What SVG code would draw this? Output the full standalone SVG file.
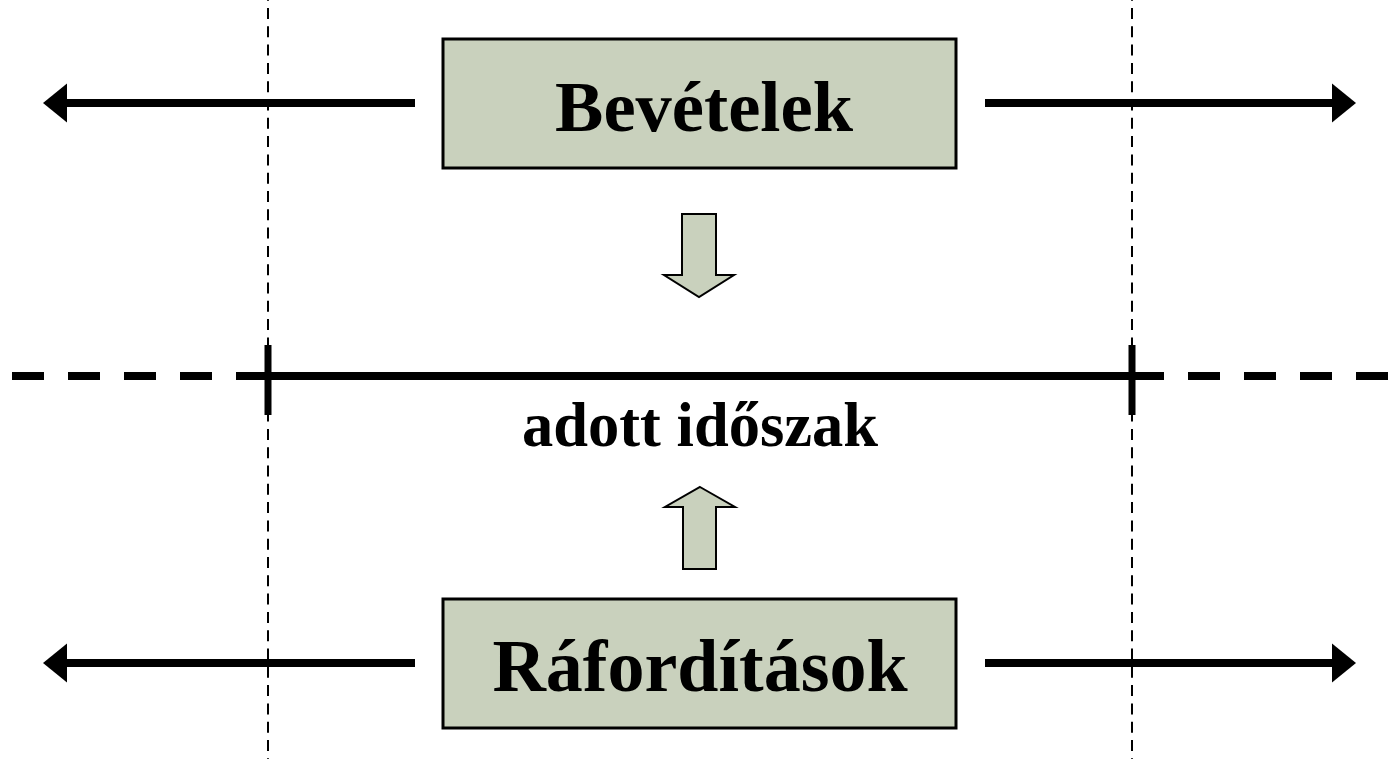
<svg xmlns="http://www.w3.org/2000/svg" width="1395" height="759" viewBox="0 0 1395 759">
<style>
.box{fill:#C9D1BD;stroke:#000;stroke-width:3}
.lbl{font-family:"Liberation Serif","Times New Roman",serif;font-weight:bold;fill:#000;text-anchor:middle}
.arr{stroke:#000;stroke-width:8;fill:none}
.blk{fill:#C9D1BD;stroke:#000;stroke-width:2;stroke-linejoin:miter}
.vdot{stroke:#000;stroke-width:2;stroke-dasharray:11 7.3;fill:none}
</style>
<defs>
<marker id="head" viewBox="0 -20 24 40" refX="0" refY="0" markerWidth="24" markerHeight="40" markerUnits="userSpaceOnUse" orient="auto">
<path d="M0,-19.5 L24,0 L0,19.5 z" fill="#000"/>
</marker>
</defs>
<rect width="1395" height="759" fill="#fff"/>
<g id="guides">
<line class="vdot" x1="268" y1="-10.3" x2="268" y2="759"/>
<line class="vdot" x1="1132" y1="-10.3" x2="1132" y2="759"/>
</g>
<g id="connectors">
<line class="arr" x1="415" y1="103" x2="67" y2="103" marker-end="url(#head)"/>
<line class="arr" x1="985" y1="103" x2="1332" y2="103" marker-end="url(#head)"/>
<line class="arr" x1="415" y1="663" x2="67" y2="663" marker-end="url(#head)"/>
<line class="arr" x1="985" y1="663" x2="1332" y2="663" marker-end="url(#head)"/>
<polygon class="blk" points="682,214 716,214 716,275 734,275 699,297 664,275 682,275"/>
<polygon class="blk" points="700,487 735,507 716,507 716,569 683,569 683,507 665,507"/>
</g>
<g id="timeline">
<line stroke="#000" stroke-width="8" stroke-dasharray="32 24" x1="12" y1="376" x2="268" y2="376"/>
<line stroke="#000" stroke-width="8" x1="268" y1="376" x2="1132" y2="376"/>
<line stroke="#000" stroke-width="8" stroke-dasharray="32 24" x1="1132" y1="376" x2="1390" y2="376"/>
<line stroke="#000" stroke-width="7" x1="268" y1="345" x2="268" y2="415"/>
<line stroke="#000" stroke-width="7" x1="1132" y1="345" x2="1132" y2="415"/>
<text class="lbl" x="700" y="446" font-size="62.5">adott időszak</text>
</g>
<g id="bevetelek">
<rect class="box" x="443" y="39" width="513" height="129"/>
<text class="lbl" x="704" y="131" font-size="72.5">Bevételek</text>
</g>
<g id="raforditasok">
<rect class="box" x="443" y="599" width="513" height="129"/>
<text class="lbl" x="700" y="691" font-size="74">Ráfordítások</text>
</g>
</svg>
